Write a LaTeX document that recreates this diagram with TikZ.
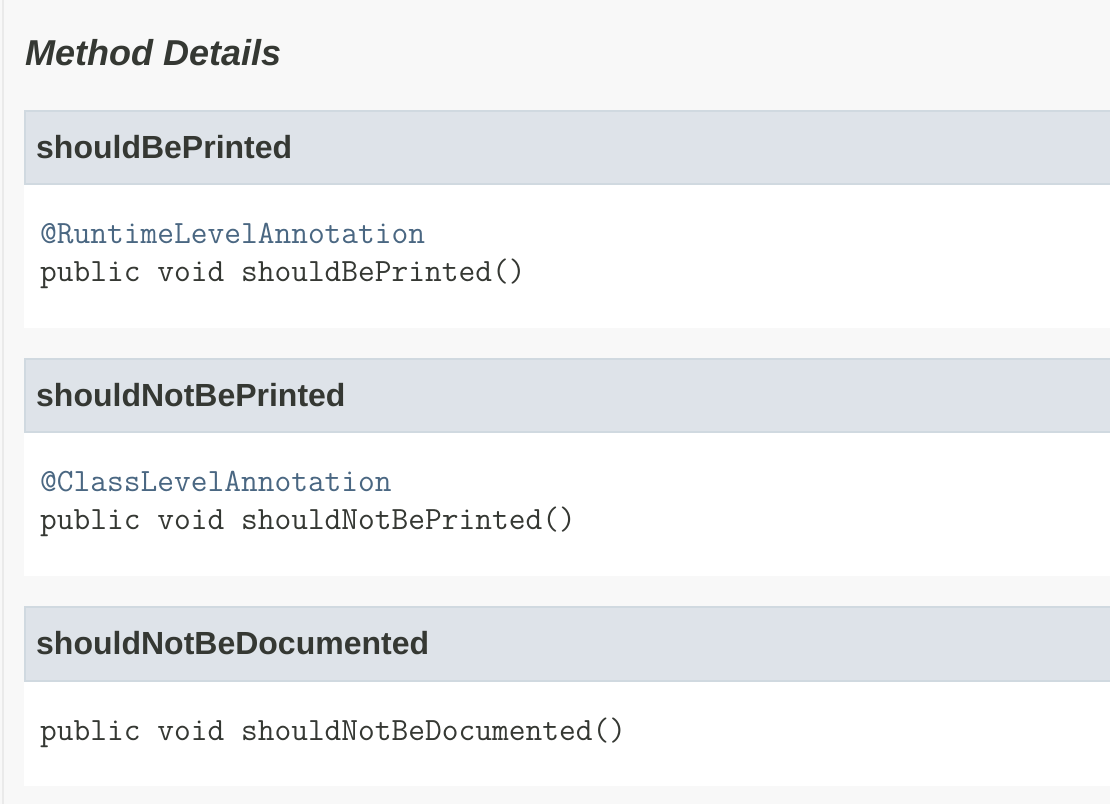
\documentclass[tikz,border=0pt]{standalone}
\usepackage{fontspec}
\setmainfont{Liberation Sans}
\newcommand\codefont{\ttfamily\addfontfeatures{FakeBold=0.6}}
\definecolor{pagebg}{HTML}{F8F8F8}
\definecolor{headfill}{HTML}{DEE3E9}
\definecolor{headline}{HTML}{D0D9E0}
\definecolor{txt}{HTML}{353833}
\definecolor{annot}{HTML}{4A6782}
\definecolor{edgeline}{HTML}{EAEAEA}
\tikzset{
  title/.style={anchor=base west, inner sep=0pt, text=txt, font=\fontsize{36}{40}\selectfont\bfseries\itshape},
  headtext/.style={anchor=base west, inner sep=0pt, text=txt, font=\fontsize{32}{36}\selectfont\bfseries},
  codetext/.style={anchor=base west, inner sep=0pt, text=txt, font=\fontsize{32.5}{36}\selectfont\codefont},
  annottext/.style={codetext, text=annot},
  headbox/.style={fill=headfill, draw=headline, line width=2pt},
  bodybox/.style={fill=white, draw=none}
}
\begin{document}
\begin{tikzpicture}[x=1pt,y=-1pt]
\useasboundingbox (0,0) rectangle (1110,804);
\fill[pagebg] (0,0) rectangle (1110,804);
\fill[edgeline] (2,0) rectangle (4,804);
\node[title] (t) at (25,65) {Method Details};
% block 1
\fill[bodybox] (24,185) rectangle (1111,328);
\draw[headbox] (25,111) rectangle (1112,184);
\node[headtext] (h1) at (36,158) {shouldBePrinted};
\node[annottext] (a1) at (40,243) {@RuntimeLevelAnnotation};
\node[codetext] (s1) at (40,281) {public void shouldBePrinted()};
% block 2
\fill[bodybox] (24,433) rectangle (1111,576);
\draw[headbox] (25,359) rectangle (1112,432);
\node[headtext] (h2) at (36,406) {shouldNotBePrinted};
\node[annottext] (a2) at (40,491) {@ClassLevelAnnotation};
\node[codetext] (s2) at (40,529) {public void shouldNotBePrinted()};
% block 3
\fill[bodybox] (24,682) rectangle (1111,786);
\draw[headbox] (25,607) rectangle (1112,681);
\node[headtext] (h3) at (36,654) {shouldNotBeDocumented};
\node[codetext] (s3) at (40,740) {public void shouldNotBeDocumented()};
\end{tikzpicture}
\end{document}
